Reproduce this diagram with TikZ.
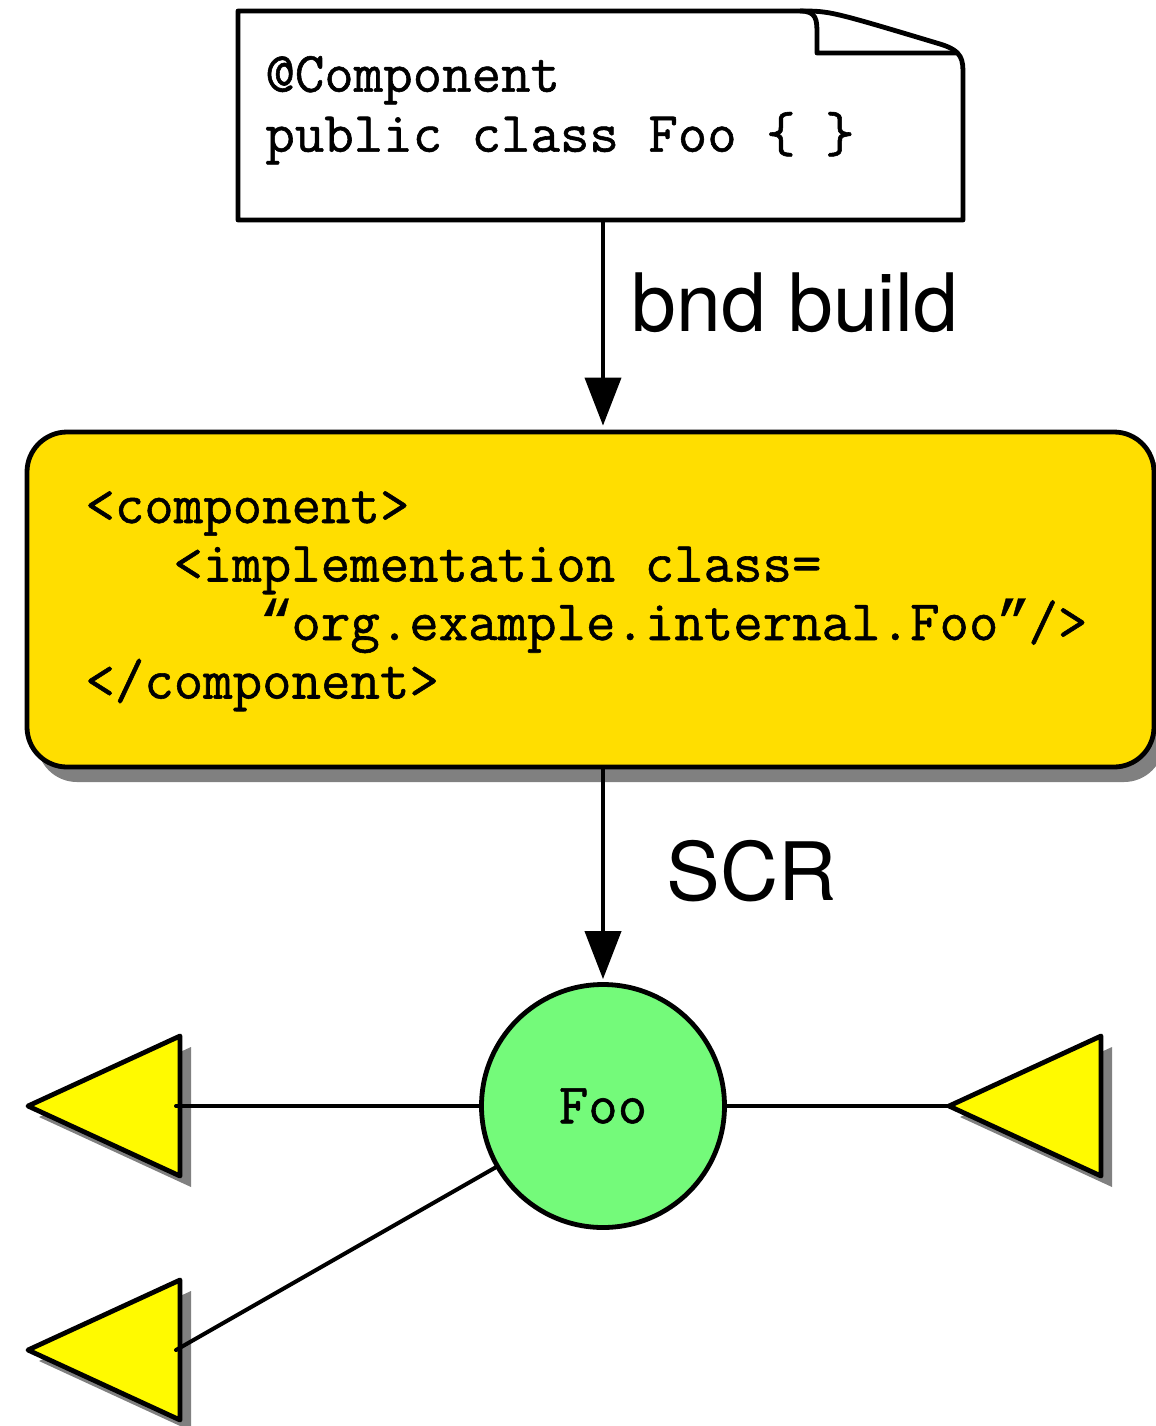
\documentclass[tikz,border=0pt]{standalone}
\usepackage{fontspec}
\setsansfont{TeX Gyre Heros}
\setmonofont{Latin Modern Mono}[FakeBold=1]
\newfontfamily\quotefont{Liberation Mono}[FakeBold=0.6]
\usetikzlibrary{arrows.meta,shadows}

\definecolor{boxgold}{RGB}{255,222,0}
\definecolor{portyellow}{RGB}{255,250,0}
\definecolor{compgreen}{RGB}{116,250,122}
\definecolor{shadowgray}{RGB}{128,128,128}

% curly quotes kept on the monospace grid
\newcommand{\codeopenq}{\makebox[0.525em][c]{\quotefont “}}
\newcommand{\codecloseq}{\makebox[0.525em][c]{\quotefont ”}}

\begin{document}
\begin{tikzpicture}[x=0.5pt,y=-0.5pt,
  outline/.style={draw=black, line width=2.4pt, line join=round},
  code/.style={anchor=base west, inner sep=0pt, font=\ttfamily\fontsize{28.6}{30}\selectfont},
  caption/.style={anchor=base west, inner sep=0pt, font=\sffamily\fontsize{40.3}{44}\selectfont},
  flow/.style={line width=2pt, -{Triangle[length=24pt,width=18pt]}},
  wire/.style={line width=2pt, line cap=round},
  port/.pic={
    \fill[shadowgray] (11,-59) -- (11,81) -- (-141,11) -- cycle;
    \draw[outline, fill=portyellow] (0,-70) -- (0,70) -- (-152,0) -- cycle;
    \coordinate (-base) at (-4,0);
    \coordinate (-tip) at (-152,0);
  }]

\useasboundingbox (0,0) rectangle (1156,1426);

% source file with a folded corner
\node[minimum width=362.5pt, minimum height=104.5pt, inner sep=0pt] (note) at (600.5,115.5) {};
\draw[outline, fill=white]
  (238,220) -- (238,11) -- (800,11)
  .. controls (830,11) .. (940,44)
  .. controls (963,51) and (963,60) .. (963,75)
  -- (963,220) -- cycle;
\draw[outline]
  (800,11) .. controls (817,11) and (817,20) .. (817,35)
  -- (817,53) -- (956,53);
\node[code] (l1) at (265,91.7) {@Component};
\node[code] (l2) at (265,151.7) {public class Foo \{ \}};

% generated component descriptor
\node[outline, fill=boxgold, rounded corners=20pt,
      minimum width=563.5pt, minimum height=167.5pt, inner sep=0pt,
      drop shadow={shadow xshift=5pt, shadow yshift=-7.5pt, fill=shadowgray, opacity=1}]
  (box) at (590.5,599.5) {};
\node[code] (x1) at (85,523) {<component>};
\node[code] (x2) at (173,581.5) {<implementation class=};
\node[code] (x3) at (261,640) {\codeopenq org.example.internal.Foo\codecloseq/>};
\node[code] (x4) at (85,698.5) {</component>};

% component and its references
\pic (pL) at (180,1106) {port};
\pic (pR) at (1101,1106) {port};
\pic (pB) at (180,1350) {port};

\node[outline, circle, fill=compgreen, minimum size=121.5pt, inner sep=0pt,
      font=\ttfamily\fontsize{28.6}{30}\selectfont] (foo) at (603,1106) {Foo};

\draw[wire] (foo.west) -- (pL-base);
\draw[wire] (foo.east) -- (pR-tip);
\draw[wire] (pB-base) -- (foo);

% processing steps
\draw[flow, shorten >=2pt] ([xshift=1.25pt]note.south) -- ([xshift=1.25pt]note.south |- box.north);
\node[caption] (bnd) at (631,331.7) {bnd build};
\draw[flow, shorten >=1.5pt] (box.south -| foo.north) -- (foo.north);
\node[caption] (scr) at (666,900) {SCR};
\end{tikzpicture}
\end{document}
